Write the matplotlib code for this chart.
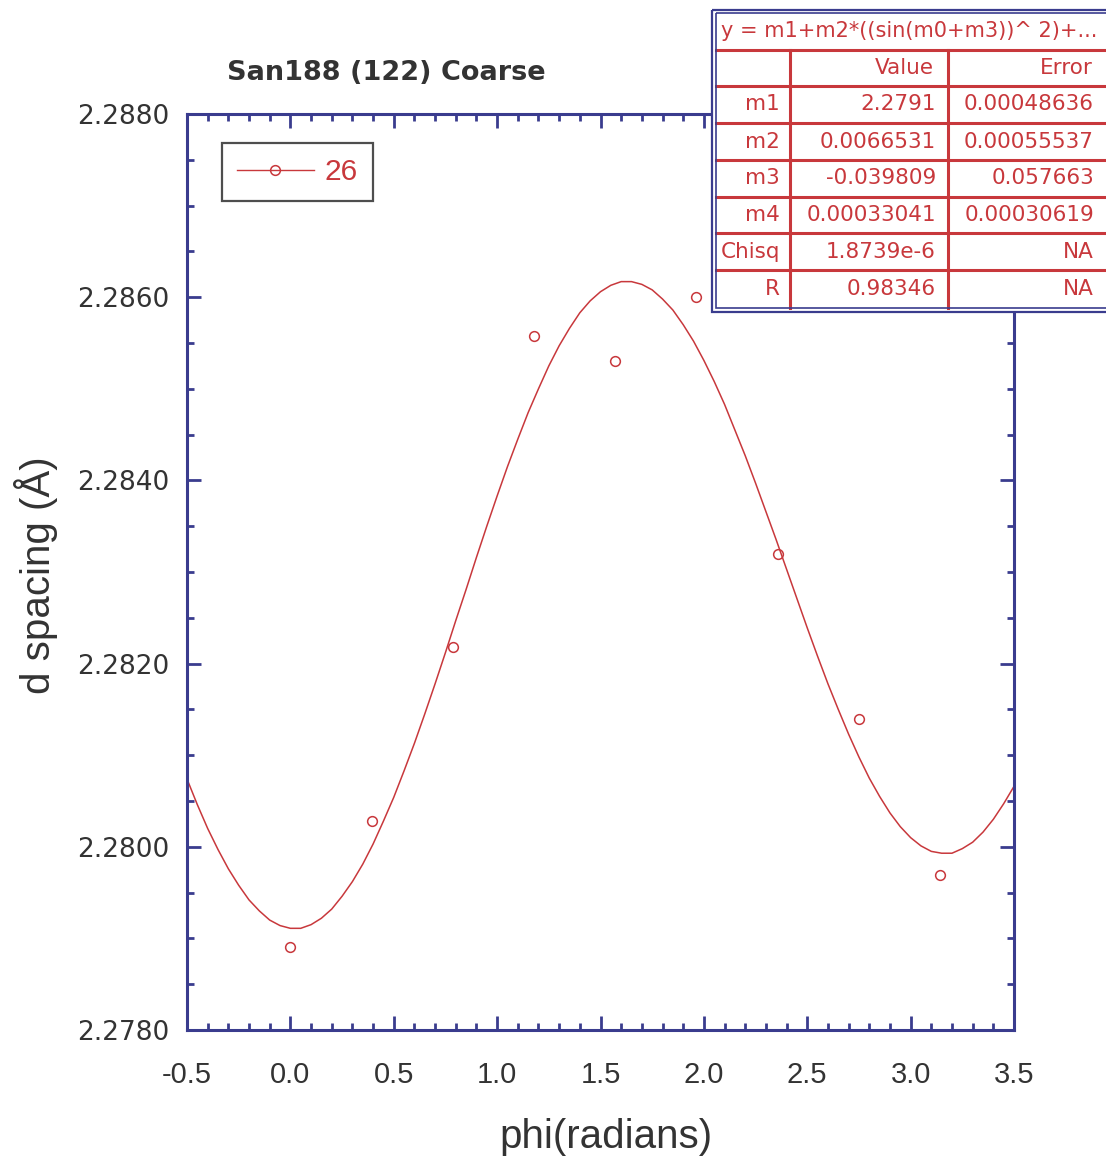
import matplotlib.pyplot as plt
from matplotlib.lines import Line2D
from matplotlib.ticker import MultipleLocator, FormatStrFormatter

# measured points (phi in radians, d spacing in Angstrom)
phi = [0.0, 0.3927, 0.7854, 1.1781, 1.5708, 1.9635, 2.3562, 2.7489, 3.1416]
d_spacing = [2.27891, 2.28028, 2.28218, 2.28558, 2.28530, 2.28600, 2.28320, 2.28139, 2.27969]

# fit curve, every 0.05 rad
fit_phi = [-0.50, -0.45, -0.40, -0.35, -0.30, -0.25, -0.20, -0.15, -0.10, -0.05,
           0.00, 0.05, 0.10, 0.15, 0.20, 0.25, 0.30, 0.35, 0.40, 0.45,
           0.50, 0.55, 0.60, 0.65, 0.70, 0.75, 0.80, 0.85, 0.90, 0.95,
           1.00, 1.05, 1.10, 1.15, 1.20, 1.25, 1.30, 1.35, 1.40, 1.45,
           1.50, 1.55, 1.60, 1.65, 1.70, 1.75, 1.80, 1.85, 1.90, 1.95,
           2.00, 2.05, 2.10, 2.15, 2.20, 2.25, 2.30, 2.35, 2.40, 2.45,
           2.50, 2.55, 2.60, 2.65, 2.70, 2.75, 2.80, 2.85, 2.90, 2.95,
           3.00, 3.05, 3.10, 3.15, 3.20, 3.25, 3.30, 3.35, 3.40, 3.45,
           3.50]
fit_d = [2.28074, 2.28046, 2.28020, 2.27997, 2.27976, 2.27958, 2.27942, 2.27930, 2.27920, 2.27914,
         2.27911, 2.27911, 2.27915, 2.27922, 2.27932, 2.27946, 2.27962, 2.27981, 2.28003, 2.28028,
         2.28054, 2.28083, 2.28113, 2.28145, 2.28178, 2.28212, 2.28247, 2.28281, 2.28316, 2.28350,
         2.28383, 2.28415, 2.28445, 2.28474, 2.28500, 2.28525, 2.28547, 2.28566, 2.28583, 2.28596,
         2.28606, 2.28613, 2.28617, 2.28617, 2.28614, 2.28608, 2.28598, 2.28586, 2.28570, 2.28552,
         2.28531, 2.28508, 2.28483, 2.28455, 2.28427, 2.28397, 2.28366, 2.28335, 2.28303, 2.28271,
         2.28239, 2.28208, 2.28178, 2.28150, 2.28123, 2.28098, 2.28075, 2.28055, 2.28037, 2.28022,
         2.28010, 2.28001, 2.27995, 2.27993, 2.27993, 2.27998, 2.28005, 2.28016, 2.28030, 2.28047,
         2.28066]

# fit result table
fit_formula = 'y = m1+m2*((sin(m0+m3))^ 2)+...'
param_names = ['m1', 'm2', 'm3', 'm4', 'Chisq', 'R']
param_values = ['2.2791', '0.0066531', '-0.039809', '0.00033041', '1.8739e-6', '0.98346']
param_errors = ['0.00048636', '0.00055537', '0.057663', '0.00030619', 'NA', 'NA']

RED = '#c8383c'
NAVY = '#3a3c8e'
GREY = '#333333'
W, H = 1106, 1161

fig = plt.figure(figsize=(W / 100, H / 100), dpi=100)
ax = fig.add_axes([187 / W, 1 - 1030 / H, 827 / W, 916 / H])

ax.plot(fit_phi, fit_d, color=RED, lw=1.1)
ax.plot(phi, d_spacing, 'o', mfc='none', mec=RED, ms=7, mew=1.1)

ax.set_xlim(-0.5, 3.5)
ax.set_ylim(2.278, 2.288)
ax.xaxis.set_major_locator(MultipleLocator(0.5))
ax.xaxis.set_minor_locator(MultipleLocator(0.1))
ax.yaxis.set_major_locator(MultipleLocator(0.002))
ax.yaxis.set_minor_locator(MultipleLocator(0.0005))
ax.xaxis.set_major_formatter(FormatStrFormatter('%.1f'))
ax.yaxis.set_major_formatter(FormatStrFormatter('%.4f'))

ax.tick_params(which='both', direction='in', top=True, right=True, color=NAVY, width=2)
ax.tick_params(which='major', length=10)
ax.tick_params(which='minor', length=5)
ax.tick_params(axis='y', which='major', pad=13, labelsize=19, labelcolor=GREY)
ax.tick_params(axis='x', which='major', pad=22, labelsize=21, labelcolor=GREY)
for lab in ax.get_xticklabels():
    lab.set_family('Liberation Sans')
for sp in ax.spines.values():
    sp.set_color(NAVY)
    sp.set_linewidth(2.2)

handle = Line2D([], [], color=RED, lw=1.0, marker='o', mfc='none', mec=RED, ms=7, mew=1.1)
leg = ax.legend([handle], ['26'], loc='upper left', bbox_to_anchor=(0.042, 0.968),
                fancybox=False, edgecolor='#222222', handlelength=2.6, handletextpad=0.35,
                borderpad=0.5, borderaxespad=0,
                prop={'family': 'Liberation Sans', 'size': 21.5})
leg.get_frame().set_linewidth(1.6)
leg.get_texts()[0].set_color(RED)

fig.text(386 / W, 1 - 73 / H, 'San188 (122) Coarse', ha='center', va='center',
         fontsize=19.5, fontweight='bold', color=GREY)
fig.text(36 / W, 1 - 575 / H, 'd spacing (Å)', ha='center', va='center', rotation=90,
         fontsize=29, family='Liberation Sans', color=GREY)
fig.text(606 / W, 1 - 1137 / H, 'phi(radians)', ha='center', va='center',
         fontsize=29, family='Liberation Sans', color=GREY)

# overlay for the fit table, in pixel coordinates
tax = fig.add_axes([0, 0, 1, 1])
tax.set_xlim(0, W)
tax.set_ylim(H, 0)
tax.axis('off')

tax.add_patch(plt.Rectangle((711, 9), 420, 303, fc='white', ec='none', zorder=1))
tax.add_patch(plt.Rectangle((711.5, 9.5), 420, 302, fc='none', ec=NAVY, lw=1.6, zorder=3))
tax.add_patch(plt.Rectangle((715.5, 13), 420, 295, fc='none', ec=NAVY, lw=1.2, zorder=3))

row_lines = [50, 86, 123, 160, 197, 233, 270]
for y in row_lines:
    tax.plot([715.5, W], [y, y], color=RED, lw=2.2, zorder=2)
for x in [790, 948]:
    tax.plot([x, x], [50, 308], color=RED, lw=2.2, zorder=2)

txt = dict(color=RED, fontsize=15.5, va='center', zorder=4)
tax.text(721, 31, fit_formula, ha='left', **dict(txt, fontsize=15))
tax.text(934, 68, 'Value', ha='right', **txt)
tax.text(1093, 68, 'Error', ha='right', **txt)
for i, name in enumerate(param_names):
    yc = (row_lines[i + 1] + (row_lines[i + 2] if i + 2 < len(row_lines) else 308)) / 2
    tax.text(780, yc, name, ha='right', **txt)
    tax.text(936, yc, param_values[i], ha='right', **txt)
    tax.text(1094, yc, param_errors[i], ha='right', **txt)

fig.savefig('out.png', dpi=100, facecolor='white')
